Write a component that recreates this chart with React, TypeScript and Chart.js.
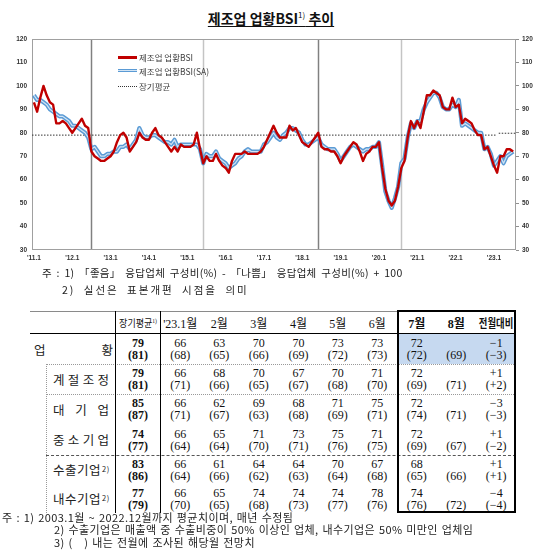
import React, { useEffect, useRef } from "react";
import { Chart, registerables } from "chart.js";

Chart.register(...registerables);

// ---------------- chart data ----------------
const xTickLabels = ["'11.1", "'12.1", "'13.1", "'14.1", "'15.1", "'16.1", "'17.1", "'18.1", "'19.1", "'20.1", "'21.1", "'22.1", "'23.1"];
const xTickMonths = [0, 12, 24, 36, 48, 60, 72, 84, 96, 108, 120, 132, 144];

// 제조업 업황BSI (monthly, 2011.1 ~ 2023.7)
const bsi = [
  93, 89, 95, 100, 96, 93, 92, 84, 84, 85, 84, 82,
  80, 82, 84, 86, 83, 82, 72, 70, 69, 68, 68, 69,
  70, 72, 76, 79, 80, 78, 72, 74, 76, 80, 78, 77,
  77, 80, 82, 79, 78, 76, 74, 72, 74, 72, 75, 74,
  74, 74, 75, 80, 73, 67, 70, 68, 68, 71, 68, 66,
  65, 63, 68, 71, 71, 71, 72, 71, 71, 71, 71, 72,
  74, 77, 80, 83, 80, 78, 78, 78, 83, 81, 82, 79,
  76, 75, 74, 76, 78, 80, 74, 73, 73, 72, 72, 70,
  67, 70, 72, 74, 76, 75, 72, 68, 71, 72, 74, 74,
  76, 65, 56, 51, 49, 51, 57, 65, 68, 78, 85, 82,
  85, 82, 89, 96, 96, 98, 97, 96, 91, 90, 90, 95,
  91, 92, 84, 86, 85, 84, 81, 79, 79, 73, 74, 70,
  66, 63, 70, 70, 73, 73, 72,
];

// 제조업 업황BSI(SA)
const bsiSA = [
  96, 94, 94, 93, 92, 90, 89, 88, 87, 87, 86, 85,
  83, 83, 82, 81, 80, 78, 73, 74, 72, 70, 70, 71,
  71, 72, 72, 74, 74, 75, 73, 75, 77, 82, 79, 78,
  78, 79, 79, 78, 77, 76, 76, 75, 77, 74, 75, 75,
  75, 75, 75, 75, 73, 67, 71, 70, 70, 72, 69, 68,
  67, 65, 66, 67, 69, 70, 72, 73, 72, 72, 72, 72,
  75, 76, 78, 80, 78, 77, 79, 80, 82, 82, 81, 80,
  77, 75, 75, 76, 77, 78, 75, 74, 73, 73, 73, 71,
  68, 70, 72, 74, 75, 74, 73, 72, 73, 73, 74, 74,
  76, 66, 55, 51, 48, 52, 57, 67, 69, 78, 84, 82,
  85, 85, 90, 93, 95, 97, 97, 95, 91, 90, 90, 92,
  91, 94, 83, 84, 83, 82, 81, 80, 80, 73, 74, 71,
  66, 68, 70, 67, 70, 71, 72,
];

// 장기평균 (value and the month index where it starts)
const longTermAvg = [79, 79.8];
const longTermAvgStart = [0, 145];
// 표본개편 시점 (month index)
const revisionMonths = [18, 53, 89, 115];
const seriesNames = ["제조업 업황BSI", "제조업 업황BSI(SA)", "장기평균"];

// ---------------- table data ----------------
const tableRowNames = ["업황", "계절조정", "대기업", "중소기업", "수출기업", "내수기업"];
const tableColNames = ["장기평균", "'23.1월", "2월", "3월", "4월", "5월", "6월", "7월", "8월", "전월대비"];
const avgNow = [79, 79, 85, 74, 83, 77];
const avgPrev = [81, 81, 87, 77, 86, 79];
const actualTotal = [66, 63, 70, 70, 73, 73, 72];
const forecastTotal = [68, 65, 66, 69, 72, 73, 72];
const actualSA = [66, 68, 70, 67, 70, 71, 72];
const forecastSA = [71, 66, 65, 67, 68, 70, 69];
const actualLarge = [66, 62, 69, 68, 71, 75, 72];
const forecastLarge = [71, 67, 63, 68, 69, 71, 74];
const actualSME = [66, 65, 71, 73, 75, 71, 72];
const forecastSME = [64, 64, 70, 71, 76, 75, 69];
const actualExport = [66, 61, 64, 64, 70, 67, 68];
const forecastExport = [64, 66, 62, 63, 64, 68, 65];
const actualDomestic = [66, 65, 74, 74, 74, 78, 74];
const forecastDomestic = [70, 65, 68, 73, 77, 76, 76];
const augForecast = [69, 71, 71, 67, 66, 72];
const momChange = [-1, 1, -3, 1, 1, -4];
const momChangePrev = [-3, 2, -3, -2, 1, -4];

const actualRows = [actualTotal, actualSA, actualLarge, actualSME, actualExport, actualDomestic];
const forecastRows = [forecastTotal, forecastSA, forecastLarge, forecastSME, forecastExport, forecastDomestic];

// ---------------- layout ----------------
const X_MIN = -0.6;
const X_MAX = 150.9;
const colEdges = [115, 161, 199.5, 239, 278.5, 318.5, 357, 397.5, 436, 476.5, 516];
const rowEdges = [311, 334, 364, 394, 424.5, 455, 484, 513];
const KR = '"Noto Sans CJK KR", sans-serif';
const SERIF = '"Liberation Serif", "Noto Sans CJK KR", serif';

const fmtSigned = (v: number) => (v > 0 ? "+" + v : v < 0 ? "\u2212" + Math.abs(v) : "0");

function HLine({ x1, x2, y, w = 1, color = "#000", style = "solid" }: any) {
  return (
    <div style={{ position: "absolute", left: x1, top: y - w / 2, width: x2 - x1, height: 0, borderTop: `${w}px ${style} ${color}` }} />
  );
}
function VLine({ x, y1, y2, w = 1, color = "#000", style = "solid" }: any) {
  return (
    <div style={{ position: "absolute", left: x - w / 2, top: y1, width: 0, height: y2 - y1, borderLeft: `${w}px ${style} ${color}` }} />
  );
}

export default function App() {
  const ref = useRef<HTMLCanvasElement>(null);

  useEffect(() => {
    const canvas = ref.current;
    if (!canvas) return;
    const pts = (arr: number[]) => arr.map((v, i) => ({ x: i, y: v }));
    const avgData: any[] = [];
    longTermAvg.forEach((v, k) => {
      const from = k === 0 ? X_MIN : longTermAvgStart[k] + 0.5;
      const to = k === longTermAvg.length - 1 ? X_MAX : longTermAvgStart[k + 1] - 0.5;
      if (k > 0) avgData.push({ x: from - 0.2, y: null });
      avgData.push({ x: from, y: v }, { x: to, y: v });
    });

    const framePlugin = {
      id: "frameAndRevisions",
      beforeDatasetsDraw(chart: any) {
        const { ctx, chartArea: a, scales } = chart;
        const x = scales.x;
        ctx.save();
        revisionMonths.forEach((m, k) => {
          const px = Math.round(x.getPixelForValue(m)) + 0.5;
          ctx.strokeStyle = k % 2 === 0 ? "#808080" : "#c4c4c4";
          ctx.lineWidth = 1.5;
          ctx.beginPath();
          ctx.moveTo(px, a.top);
          ctx.lineTo(px, a.bottom);
          ctx.stroke();
        });
        ctx.strokeStyle = "#a0a0a0";
        ctx.lineWidth = 1;
        ctx.strokeRect(Math.round(a.left) + 0.5, Math.round(a.top) + 0.5, Math.round(a.width) - 1, Math.round(a.height) - 1);
        ctx.restore();
      },
    };

    const tickFont = { family: '"Liberation Sans", Arial, sans-serif', size: 6.5, weight: "bold" as const };

    const chart = new Chart(canvas, {
      type: "line",
      data: {
        datasets: [
          { label: seriesNames[2], data: avgData, borderColor: "#333", borderWidth: 1, borderDash: [1.5, 1.5], pointRadius: 0, order: 4 },
          { label: seriesNames[1], data: pts(bsiSA), borderColor: "#5b9bd5", borderWidth: 4.2, pointRadius: 0, borderJoinStyle: "round", order: 3 },
          { label: seriesNames[1] + " inner", data: pts(bsiSA), borderColor: "#d2e4f4", borderWidth: 1.2, pointRadius: 0, borderJoinStyle: "round", order: 2 },
          { label: seriesNames[0], data: pts(bsi), borderColor: "#c00000", borderWidth: 2.4, pointRadius: 0, borderJoinStyle: "round", order: 1 },
        ] as any,
      },
      options: {
        animation: false,
        responsive: false,
        maintainAspectRatio: false,
        layout: { padding: { top: 11, left: 0, right: 0, bottom: 0 } },
        plugins: { legend: { display: false }, tooltip: { enabled: false } },
        scales: {
          x: {
            type: "linear",
            min: X_MIN,
            max: X_MAX,
            afterBuildTicks: (s: any) => {
              s.ticks = xTickMonths.map((v) => ({ value: v }));
            },
            afterFit: (s: any) => {
              s.height = 18;
            },
            ticks: {
              autoSkip: false,
              maxRotation: 0,
              padding: 4,
              color: "#333",
              font: tickFont,
              callback: (v: any) => {
                const k = xTickMonths.indexOf(Number(v));
                return k >= 0 ? xTickLabels[k] : "";
              },
            },
            grid: { display: false, drawTicks: false },
            border: { display: false },
          },
          y: {
            position: "left",
            min: 30,
            max: 120,
            afterFit: (s: any) => {
              s.width = 32;
            },
            ticks: { stepSize: 10, padding: 5, color: "#333", font: tickFont },
            grid: { display: false, drawTicks: false },
            border: { display: false },
          },
          y2: {
            position: "right",
            min: 30,
            max: 120,
            afterFit: (s: any) => {
              s.width = 36;
            },
            ticks: { stepSize: 10, padding: 3, color: "#333", font: tickFont },
            grid: { display: true, drawOnChartArea: false, drawTicks: true, tickLength: 3, color: "#909090" },
            border: { display: false },
          },
        },
      } as any,
      plugins: [framePlugin],
    });
    return () => chart.destroy();
  }, []);

  const cellNumStyle: React.CSSProperties = { font: `12px ${SERIF}`, lineHeight: "12px", color: "#111" };

  const cells: any[] = [];
  for (let r = 0; r < tableRowNames.length; r++) {
    const top = rowEdges[r + 1];
    const h = rowEdges[r + 2] - top;
    for (let c = 0; c < tableColNames.length; c++) {
      const left = colEdges[c];
      const w = colEdges[c + 1] - left;
      let a = "";
      let b = "";
      let bold = false;
      if (c === 0) {
        a = String(avgNow[r]);
        b = `(${avgPrev[r]})`;
        bold = true;
      } else if (c <= 7) {
        a = String(actualRows[r][c - 1]);
        b = `(${forecastRows[r][c - 1]})`;
      } else if (c === 8) {
        a = "\u00a0";
        b = `(${augForecast[r]})`;
      } else {
        a = fmtSigned(momChange[r]);
        b = `(${fmtSigned(momChangePrev[r])})`;
      }
      cells.push(
        <div
          key={`c${r}-${c}`}
          style={{
            position: "absolute",
            left,
            top,
            width: w,
            height: h,
            display: "flex",
            flexDirection: "column",
            alignItems: "center",
            justifyContent: "center",
            ...cellNumStyle,
            fontWeight: bold ? "bold" : "normal",
          }}
        >
          <div>{a}</div>
          <div>{b}</div>
        </div>
      );
    }
  }

  const rowLabels = tableRowNames.map((name, r) => {
    const top = rowEdges[r + 1];
    const h = rowEdges[r + 2] - top;
    const base: React.CSSProperties = {
      position: "absolute",
      top,
      height: h,
      display: "flex",
      alignItems: "center",
      font: `12.5px ${KR}`,
      color: "#222",
    };
    if (r === 0) {
      return (
        <div key={name} style={{ ...base, left: 34, width: 79, justifyContent: "space-between" }}>
          {name.split("").map((ch, i) => (
            <span key={i}>{ch}</span>
          ))}
        </div>
      );
    }
    if (r <= 3) {
      return (
        <div key={name} style={{ ...base, left: 53, width: 56, justifyContent: "space-between" }}>
          {name.split("").map((ch, i) => (
            <span key={i}>{ch}</span>
          ))}
        </div>
      );
    }
    return (
      <div key={name} style={{ ...base, left: 53, letterSpacing: "0.5px" }}>
        {name}
        <sup style={{ fontSize: 7.5, marginLeft: 1, position: "relative", top: -1 }}>2)</sup>
      </div>
    );
  });

  const headers = tableColNames.map((name, c) => {
    const left = colEdges[c];
    const w = colEdges[c + 1] - left;
    const bold = c >= 7;
    let content: any = name;
    if (c === 0) {
      content = (
        <span style={{ display: "inline-block", transform: "scaleX(0.86)", whiteSpace: "nowrap", fontSize: 10.5 }}>
          {name}
          <sup style={{ fontSize: 6.5 }}>1)</sup>
        </span>
      );
    } else if (c === 9) {
      content = <span style={{ display: "inline-block", transform: "scaleX(0.78)", whiteSpace: "nowrap" }}>{name}</span>;
    }
    return (
      <div
        key={name}
        style={{
          position: "absolute",
          left,
          width: w,
          top: rowEdges[0],
          height: rowEdges[1] - rowEdges[0],
          display: "flex",
          alignItems: "center",
          justifyContent: "center",
          font: `${bold ? "bold " : ""}12px ${SERIF}`,
          color: "#111",
          whiteSpace: "nowrap",
        }}
      >
        {content}
      </div>
    );
  });

  const legendItems = [
    { y: 57, sample: <div style={{ position: "absolute", left: 118, top: 57 - 1.5, width: 19, height: 3, background: "#c00000" }} /> },
    {
      y: 71,
      sample: (
        <div
          style={{
            position: "absolute",
            left: 118,
            top: 71 - 2,
            width: 19,
            height: 1,
            background: "#d2e4f4",
            borderTop: "1.5px solid #5b9bd5",
            borderBottom: "1.5px solid #5b9bd5",
          }}
        />
      ),
    },
    { y: 86, sample: <div style={{ position: "absolute", left: 118, top: 86, width: 19, height: 0, borderTop: "1px dotted #333" }} /> },
  ];

  const noteStyle: React.CSSProperties = { position: "absolute", font: `10.5px ${KR}`, lineHeight: "14px", color: "#222", whiteSpace: "nowrap" };

  return (
    <div style={{ position: "absolute", left: 0, top: 0, width: 552, height: 551, background: "#fff", overflow: "hidden" }}>
      {/* title */}
      <div style={{ position: "absolute", left: 0, top: 6, width: 542, textAlign: "center", font: `bold 14px ${KR}`, lineHeight: "18px", color: "#111" }}>
        <span style={{ textDecoration: "underline", textUnderlineOffset: "2px" }}>
          제조업 업황BSI<sup style={{ fontSize: 8, fontWeight: "normal" }}>1)</sup> 추이
        </span>
      </div>

      <canvas ref={ref} width={552} height={240} style={{ position: "absolute", left: 0, top: 28, width: 552, height: 240 }} />

      {/* legend */}
      {legendItems.map((it, k) => (
        <React.Fragment key={k}>
          {it.sample}
          <div style={{ position: "absolute", left: 139, top: it.y - 6, height: 12, lineHeight: "12px", font: `8.5px ${KR}`, color: "#404040", whiteSpace: "nowrap" }}>
            {seriesNames[k]}
          </div>
        </React.Fragment>
      ))}

      {/* chart notes */}
      <div style={{ ...noteStyle, left: 42, top: 266, letterSpacing: "0.3px", wordSpacing: "2px" }}>
        주 : 1) 「좋음」 응답업체 구성비(%) - 「나쁨」 응답업체 구성비(%) + 100
      </div>
      <div style={{ ...noteStyle, left: 62, top: 283, letterSpacing: "2px", wordSpacing: "4px" }}>
        2) 실선은 표본개편 시점을 의미
      </div>

      {/* table */}
      <div style={{ position: "absolute", left: 397.5, top: 334, width: 118.5, height: 30, background: "#c6d9f0" }} />
      {headers}
      {rowLabels}
      {cells}

      <HLine x1={30} x2={397} y={311} w={1} color="#8a8a8a" />
      <HLine x1={30} x2={516} y={334} w={1.6} color="#000" />
      <HLine x1={46} x2={516} y={364} w={1} color="#999" style="dotted" />
      <HLine x1={46} x2={516} y={394} w={1} color="#999" style="dotted" />
      <HLine x1={46} x2={516} y={455} w={1} color="#555" style="dashed" />
      <VLine x={46} y1={364} y2={513} w={1} color="#999" style="dotted" />
      <VLine x={115} y1={311} y2={513} w={1} color="#000" />
      <VLine x={161} y1={311} y2={513} w={1.6} color="#000" />
      {/* highlighted box */}
      <div style={{ position: "absolute", left: 396.5, top: 310, width: 119.5, height: 203, border: "2px solid #000", boxSizing: "border-box" }} />

      {/* table notes */}
      <div style={{ position: "absolute", left: 2, top: 510.5, font: `11px ${KR}`, lineHeight: "12.5px", color: "#222", whiteSpace: "nowrap", letterSpacing: "0.4px", wordSpacing: "1px" }}>
        <div>주 : 1) 2003.1월 ~ 2022.12월까지 평균치이며, 매년 수정됨</div>
        <div style={{ paddingLeft: 52 }}>2) 수출기업은 매출액 중 수출비중이 50% 이상인 업체, 내수기업은 50% 미만인 업체임</div>
        <div style={{ paddingLeft: 52 }}>3) (&nbsp;&nbsp;&nbsp;) 내는 전월에 조사된 해당월 전망치</div>
      </div>
    </div>
  );
}
